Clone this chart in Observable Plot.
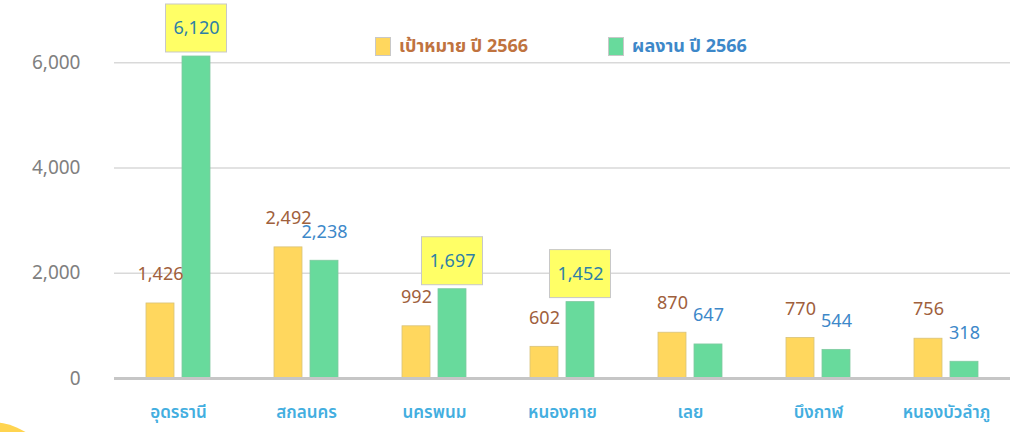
<!DOCTYPE html>
<html><head><meta charset="utf-8">
<script src="https://cdn.jsdelivr.net/npm/d3@7"></script>
<script src="https://cdn.jsdelivr.net/npm/@observablehq/plot@0.6"></script>
<style>
body{margin:0;background:#fff;overflow:hidden}
#wrap{position:relative;width:1023px;height:432px;overflow:hidden;font-family:Tahoma,"Noto Sans Thai","DejaVu Sans","Noto Sans",sans-serif}
#blob{position:absolute;left:-78px;top:422px;width:136px;height:136px;border-radius:50%;background:#ffd450}
#legend{position:absolute;left:375px;top:33px;display:flex;align-items:center;font-size:18px;font-weight:bold}
.sw{display:inline-block;width:16px;height:19px;border:1px solid #c8c8c8;box-sizing:border-box;margin-right:8px}
.item{display:flex;align-items:center}
</style>
</head><body>
<div id="wrap"><div id="chart"></div><div id="blob"></div><div id="legend"></div></div>
<script>
const categories = ["อุดรธานี","สกลนคร","นครพนม","หนองคาย","เลย","บึงกาฬ","หนองบัวลำภู"];
const targetValues = [1426, 2492, 992, 602, 870, 770, 756];
const resultValues = [6120, 2238, 1697, 1452, 647, 544, 318];
const seriesNames = ["เป้าหมาย ปี 2566", "ผลงาน ปี 2566"];
const highlighted = ["อุดรธานี", "นครพนม", "หนองคาย"];
const yTicks = [0, 2000, 4000, 6000];

const barColors = ["#ffd75e", "#68da9c"];
const labelColors = ["#a0603c", "#3d88c9"];
const boxTextColor = "#2e7fa6";

const rows = categories.flatMap((c, i) => [
  {cat: c, series: seriesNames[0], value: targetValues[i]},
  {cat: c, series: seriesNames[1], value: resultValues[i]}
]);
const targetRows = rows.filter(d => d.series === seriesNames[0]);
const resultRows = rows.filter(d => d.series === seriesNames[1]);
const boxed = resultRows.filter(d => highlighted.includes(d.cat));
const plainResult = resultRows.filter(d => !highlighted.includes(d.cat));
const fmt = d3.format(",");
const enc = {fx: "cat", x: "series", y: "value"};

const chart = Plot.plot({
  width: 1023, height: 432,
  marginLeft: 114, marginRight: 13, marginTop: 36, marginBottom: 54,
  style: {fontFamily: 'Tahoma,"Noto Sans Thai","DejaVu Sans",sans-serif', background: "transparent"},
  fx: {domain: categories, padding: 0, axis: null, label: null},
  x: {domain: seriesNames, paddingInner: 0.216, paddingOuter: 0.838, axis: null},
  y: {domain: [0, 6500], axis: null},
  marks: [
    Plot.ruleY(yTicks.slice(1), {stroke: "#d9d9d9", strokeWidth: 1.5}),
    Plot.barY(targetRows, {...enc, fill: barColors[0], stroke: "#d8c27a", strokeWidth: 0.8}),
    Plot.barY(resultRows, {...enc, fill: barColors[1], stroke: "#7fc9a0", strokeWidth: 0.8}),
    Plot.ruleY([0], {stroke: "#c6c6c6", strokeWidth: 3}),
    Plot.barY(boxed, {fx: "cat", x: "series", y1: "value", y2: "value", fill: "#ffff66", stroke: "#c8c8c8",
      insetLeft: -16.5, insetRight: -16.5, insetTop: -52, insetBottom: 4}),
    Plot.text(targetRows, {...enc, text: d => fmt(d.value), dy: -29, fill: labelColors[0], fontSize: 18}),
    Plot.text(plainResult, {...enc, text: d => fmt(d.value), dy: -29, fill: labelColors[1], fontSize: 18}),
    Plot.text(boxed, {...enc, text: d => fmt(d.value), dy: -28, fill: boxTextColor, fontSize: 18}),
    Plot.axisY({ticks: yTicks, tickSize: 0, tickPadding: 34, tickFormat: d => fmt(d), fontSize: 19, fill: "#808080", label: null}),
    Plot.axisFx({anchor: "bottom", tickSize: 0, tickPadding: 27, fontSize: 17, fontWeight: 600, fill: "#43aee0", label: null})
  ]
});
document.getElementById("chart").append(chart);

const legend = document.getElementById("legend");
seriesNames.forEach((s, i) => {
  const item = document.createElement("div");
  item.className = "item";
  item.style.marginRight = i === 0 ? "80px" : "0";
  const sw = document.createElement("span");
  sw.className = "sw";
  sw.style.background = barColors[i];
  const t = document.createElement("span");
  t.textContent = s;
  t.style.color = i === 0 ? "#c0733f" : "#3d88c9";
  item.append(sw, t);
  legend.append(item);
});
</script>
</body></html>
